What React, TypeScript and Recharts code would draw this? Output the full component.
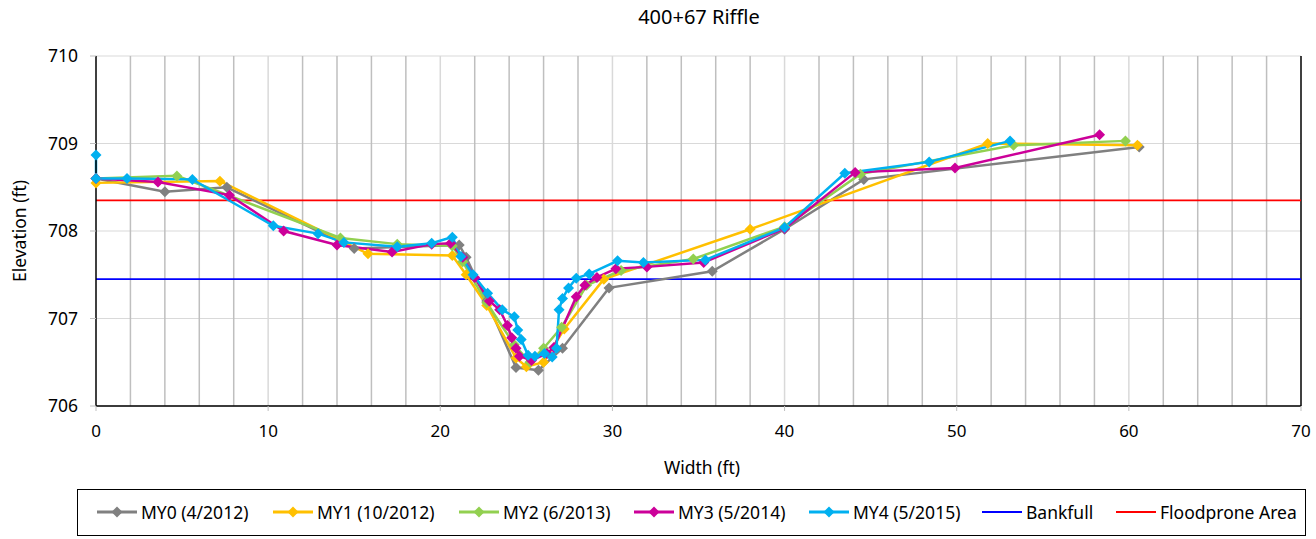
import React from 'react';
import {
  LineChart,
  Line,
  XAxis,
  YAxis,
  CartesianGrid,
  ReferenceLine,
} from 'recharts';

type Pt = { x: number; y: number };

const toPts = (rows: number[][]): Pt[] => rows.map(([x, y]) => ({ x, y }));

// survey data (width ft, elevation ft)
const my0 = toPts([
  [0, 708.6], [4.0, 708.45], [7.6, 708.5], [15.0, 707.8], [21.1, 707.84],
  [21.5, 707.7], [22.7, 707.2], [24.4, 706.44], [25.7, 706.41], [27.1, 706.66],
  [29.8, 707.35], [35.8, 707.54], [40.0, 708.02], [44.6, 708.59], [60.6, 708.96],
]);

const my1 = toPts([
  [0, 708.55], [7.2, 708.57], [15.8, 707.74], [20.7, 707.72], [21.5, 707.5],
  [22.7, 707.15], [24.4, 706.55], [25.0, 706.45], [26.0, 706.5], [27.2, 706.88],
  [29.5, 707.45], [38.0, 708.02], [51.8, 709.0], [60.5, 708.98],
]);

const my2 = toPts([
  [0, 708.6], [4.7, 708.63], [14.2, 707.92], [17.5, 707.85], [20.7, 707.83],
  [21.3, 707.65], [22.7, 707.18], [24.3, 706.7], [25.2, 706.5], [26.0, 706.66],
  [27.05, 706.9], [28.5, 707.38], [30.5, 707.55], [34.7, 707.68], [40.0, 708.05],
  [44.4, 708.65], [53.3, 708.98], [59.8, 709.03],
]);

const my3 = toPts([
  [0, 708.6], [3.6, 708.56], [7.75, 708.41], [10.9, 708.0], [14.0, 707.84],
  [17.2, 707.76], [19.5, 707.85], [20.6, 707.86], [21.3, 707.7], [22.0, 707.47],
  [22.85, 707.2], [23.45, 707.1], [23.9, 706.92], [24.15, 706.78], [24.4, 706.66],
  [24.6, 706.57], [25.3, 706.52], [26.2, 706.6], [26.6, 706.67], [27.9, 707.25],
  [28.4, 707.38], [29.1, 707.47], [30.2, 707.57], [32.0, 707.59], [35.3, 707.64],
  [40.0, 708.03], [44.1, 708.67], [49.9, 708.72], [58.3, 709.1],
]);

const my4 = toPts([
  [0, 708.87], [0, 708.6], [1.8, 708.6], [5.6, 708.59], [10.3, 708.06],
  [12.9, 707.97], [14.4, 707.87], [17.5, 707.82], [19.5, 707.86], [20.7, 707.93],
  [21.2, 707.71], [21.9, 707.5], [22.75, 707.29], [23.6, 707.1], [24.3, 707.02],
  [24.5, 706.87], [24.7, 706.76], [25.1, 706.58], [25.5, 706.57], [26.05, 706.6],
  [26.5, 706.56], [26.75, 706.66], [26.9, 707.1], [27.1, 707.23], [27.45, 707.35],
  [27.9, 707.46], [28.65, 707.51], [30.3, 707.66], [31.8, 707.64], [35.4, 707.67],
  [40.0, 708.04], [43.5, 708.66], [48.4, 708.79], [53.1, 709.03],
]);

const BANKFULL = 707.45;
const FLOODPRONE = 708.35;

const xTicks = [0, 10, 20, 30, 40, 50, 60, 70];
const yTicks = [706, 707, 708, 709, 710];
const xMinorGrid = [2, 4, 6, 8, 12, 14, 16, 18, 22, 24, 26, 28, 32, 34, 36, 38, 42, 44, 46, 48, 52, 54, 56, 58, 62, 64, 66, 68];
const xMajorGrid = [10, 20, 30, 40, 50, 60];

const series = [
  { name: 'MY0 (4/2012)', data: my0, color: '#808080' },
  { name: 'MY1 (10/2012)', data: my1, color: '#FFC000' },
  { name: 'MY2 (6/2013)', data: my2, color: '#92D050' },
  { name: 'MY3 (5/2014)', data: my3, color: '#CC0099' },
  { name: 'MY4 (5/2015)', data: my4, color: '#00B0F0' },
];

const FONT = '"Noto Sans", "Liberation Sans", sans-serif';

const diamond = (color: string, r: number) => (props: { cx?: number; cy?: number; index?: number }) => {
  const { cx, cy, index } = props;
  if (cx == null || cy == null) return <g key={index} />;
  return (
    <path
      key={index}
      d={`M${cx},${cy - r}L${cx + r},${cy}L${cx},${cy + r}L${cx - r},${cy}Z`}
      fill={color}
      stroke="none"
    />
  );
};

const legendItems = [
  ...series.map((s) => ({ name: s.name, color: s.color, marker: true })),
  { name: 'Bankfull', color: '#0000FF', marker: false },
  { name: 'Floodprone Area', color: '#FF0000', marker: false },
];
const legendLeft = [97, 273, 459, 634, 809, 982, 1116];

export default function App() {
  return (
    <div style={{ position: 'absolute', left: 0, top: 0, width: 1316, height: 539, background: '#fff', fontFamily: FONT, color: '#000' }}>
      <div style={{ position: 'absolute', top: 3, left: 0, width: 1398, textAlign: 'center', fontSize: 20, lineHeight: '28px' }}>
        400+67 Riffle
      </div>
      <LineChart
        width={1316}
        height={539}
        margin={{ top: 56, right: 15, bottom: 93, left: 0 }}
        style={{ position: 'absolute', left: 0, top: 0 }}
      >
        <CartesianGrid vertical={false} stroke="#d9d9d9" strokeWidth={1.2} />
        {xMinorGrid.map((v) => (
          <ReferenceLine key={`mi${v}`} x={v} stroke="#bfbfbf" strokeWidth={1.5} />
        ))}
        {xMajorGrid.map((v) => (
          <ReferenceLine key={`ma${v}`} x={v} stroke="#d9d9d9" strokeWidth={1.5} />
        ))}
        <ReferenceLine x={70} stroke="#000" strokeWidth={1.5} />
        <XAxis
          type="number"
          dataKey="x"
          domain={[0, 70]}
          ticks={xTicks}
          allowDuplicatedCategory={false}
          height={40}
          axisLine={{ stroke: '#000', strokeWidth: 1.5 }}
          tickLine={{ stroke: '#bfbfbf' }}
          tickSize={5}
          tickMargin={14}
          tick={{ fill: '#000', fontSize: 17, fontFamily: FONT }}
        />
        <YAxis
          type="number"
          domain={[706, 710]}
          ticks={yTicks}
          width={96}
          axisLine={{ stroke: '#000', strokeWidth: 1.5 }}
          tickLine={{ stroke: '#bfbfbf' }}
          tickSize={6}
          tickMargin={12}
          tick={{ fill: '#000', fontSize: 17.5, fontFamily: FONT }}
        />
        <ReferenceLine y={BANKFULL} stroke="#0000FF" strokeWidth={1.8} />
        <ReferenceLine y={FLOODPRONE} stroke="#FF0000" strokeWidth={1.8} />
        {series.map((s) => (
          <Line
            key={s.name}
            data={s.data}
            dataKey="y"
            name={s.name}
            type="linear"
            stroke={s.color}
            strokeWidth={2.5}
            dot={diamond(s.color, 5.5)}
            activeDot={false}
            isAnimationActive={false}
          />
        ))}
      </LineChart>
      <div style={{ position: 'absolute', top: 454, left: 0, width: 1404, textAlign: 'center', fontSize: 17.5, lineHeight: '26px' }}>
        Width (ft)
      </div>
      <div
        style={{
          position: 'absolute',
          left: 19,
          top: 231,
          transform: 'translate(-50%, -50%) rotate(-90deg)',
          fontSize: 17.5,
          lineHeight: '24px',
          whiteSpace: 'nowrap',
        }}
      >
        Elevation (ft)
      </div>
      <div
        style={{
          position: 'absolute',
          left: 77,
          top: 489,
          width: 1229,
          height: 47,
          border: '1.5px solid #000',
          boxSizing: 'border-box',
        }}
      >
        {legendItems.map((it, i) => (
          <div
            key={it.name}
            style={{ position: 'absolute', left: legendLeft[i] - 78, top: 10, height: 24, display: 'flex', alignItems: 'center', fontSize: 17.5, whiteSpace: 'nowrap' }}
          >
            <svg width={40} height={14} style={{ marginRight: 4 }}>
              <line x1={0} y1={7} x2={40} y2={7} stroke={it.color} strokeWidth={it.marker ? 3 : 2} />
              {it.marker && <path d="M20,1.5L25.5,7L20,12.5L14.5,7Z" fill={it.color} />}
            </svg>
            <span>{it.name}</span>
          </div>
        ))}
      </div>
    </div>
  );
}
